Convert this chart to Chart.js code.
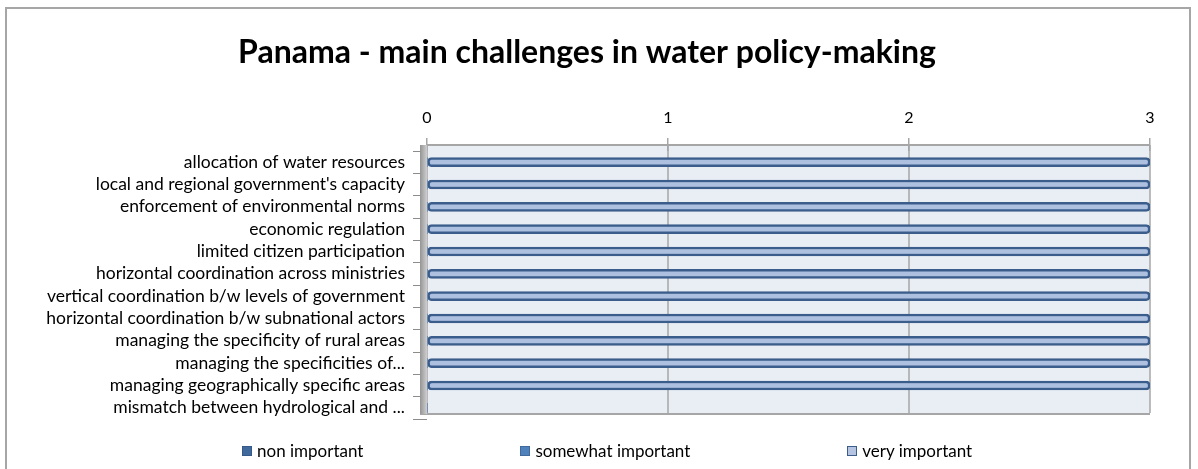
<!DOCTYPE html>
<html>
<head>
<meta charset="utf-8">
<script src="https://cdn.jsdelivr.net/npm/chart.js@4.4.0/dist/chart.umd.min.js"></script>
<style>
  html, body { margin: 0; padding: 0; background: #fff; overflow: hidden; }
  #wrap { position: relative; width: 1198px; height: 469px; }
  #frame { position: absolute; left: 5px; top: 7px; width: 1186px; height: 480px; border: 2px solid #a6a6a6; box-sizing: border-box; }
  canvas { position: absolute; left: 0; top: 0; }
  #legend { position: absolute; left: 242px; top: 440px; display: flex; gap: 157px; font: 17px Lato, sans-serif; color: #000; }
  .item { display: flex; align-items: center; }
  .box { width: 10px; height: 10px; margin-right: 5px; box-sizing: border-box; }
</style>
</head>
<body>
<div id="wrap">
  <div id="frame"></div>
  <canvas id="chart" width="1198" height="469"></canvas>
  <div id="legend"></div>
</div>
<script>
const categories = [
    'allocation of water resources',
    "local and regional government's capacity",
    'enforcement of environmental norms',
    'economic regulation',
    'limited citizen participation',
    'horizontal coordination across ministries',
    'vertical coordination b/w levels of government',
    'horizontal coordination b/w subnational actors',
    'managing the specificity of rural areas',
    'managing the specificities of...',
    'managing geographically specific areas',
    'mismatch between hydrological and ...'
];
const seriesNames = ['non important', 'somewhat important', 'very important'];
const nonImportant = [0, 0, 0, 0, 0, 0, 0, 0, 0, 0, 0, 0];
const somewhatImportant = [0, 0, 0, 0, 0, 0, 0, 0, 0, 0, 0, 0];
const veryImportant = [3, 3, 3, 3, 3, 3, 3, 3, 3, 3, 3, 0];
const xTicks = [0, 1, 2, 3];

const fills = ['#40699c', '#4f81bd', '#adc0df'];
const borders = ['#36598a', '#41699c', '#3a5d8c'];

// plot box with a flat "3D" wall, drawn around the chart area
const plotBox = {
    id: 'plotBox',
    beforeDraw(chart) {
        const { ctx, chartArea: a } = chart;
        ctx.save();
        ctx.fillStyle = '#e9edf4';
        ctx.fillRect(a.left, a.top - 6, a.right - a.left, a.bottom - a.top);
        ctx.restore();
    },
    beforeDatasetsDraw(chart) {
        const { ctx, chartArea: a, scales } = chart;
        const top = a.top - 6, bottom = a.bottom - 6;
        ctx.save();
        ctx.strokeStyle = '#a6a6a6';
        ctx.lineWidth = 1.5;
        xTicks.forEach(v => {
            const px = scales.x.getPixelForValue(v);
            ctx.beginPath();
            ctx.moveTo(px, top);
            ctx.lineTo(px, bottom);
            ctx.stroke();
        });
        ctx.lineWidth = 2;
        ctx.beginPath();
        ctx.moveTo(a.left, top);
        ctx.lineTo(a.right, top);
        ctx.moveTo(a.left - 7, bottom + 1);
        ctx.lineTo(a.right, bottom + 1);
        ctx.stroke();
        const g = ctx.createLinearGradient(a.left - 7, 0, a.left, 0);
        g.addColorStop(0, '#949494');
        g.addColorStop(1, '#cfcfcf');
        ctx.fillStyle = g;
        ctx.fillRect(a.left - 7, top, 7, bottom - top + 1);
        ctx.restore();
    }
};

const ctx = document.getElementById('chart').getContext('2d');
const chart = new Chart(ctx, {
    type: 'bar',
    data: {
        labels: categories,
        datasets: [nonImportant, somewhatImportant, veryImportant].map((d, i) => ({
            label: seriesNames[i],
            data: d,
            backgroundColor: fills[i],
            borderColor: borders[i],
            borderWidth: d.some(v => v > 0) ? 2.5 : 0,
            borderSkipped: false,
            borderRadius: 4,
            barThickness: 9
        }))
    },
    options: {
        indexAxis: 'y',
        responsive: false,
        animation: false,
        layout: { padding: { top: 0, left: 24, right: 48, bottom: 50 } },
        plugins: {
            legend: { display: false },
            tooltip: { enabled: false },
            title: {
                display: true,
                text: 'Panama - main challenges in water policy-making',
                color: '#000',
                font: { family: 'Lato', size: 32, weight: 'bold', lineHeight: 1.2 },
                padding: { top: 33, bottom: 8.4 }
            }
        },
        scales: {
            x: {
                position: 'top',
                stacked: true,
                min: 0,
                max: 3,
                afterBuildTicks: axis => { axis.ticks = xTicks.map(v => ({ value: v })); },
                afterFit: axis => { axis.height = 71.2; },
                grid: { drawOnChartArea: false, tickLength: 13, color: '#a6a6a6', lineWidth: 1.5 },
                border: { display: false },
                ticks: { color: '#000', padding: 11, font: { family: 'Lato', size: 16 } }
            },
            y: {
                stacked: true,
                afterFit: axis => { axis.width = 403; },
                grid: { drawOnChartArea: false, tickLength: 14, color: '#8c8c8c', lineWidth: 1 },
                border: { display: false },
                ticks: { color: '#000', padding: 8, autoSkip: false, font: { family: 'Lato', size: 17.5 } }
            }
        }
    },
    plugins: [plotBox]
});

const legend = document.getElementById('legend');
seriesNames.forEach((name, i) => {
    const item = document.createElement('div');
    item.className = 'item';
    const box = document.createElement('span');
    box.className = 'box';
    box.style.background = i === 2 ? '#b4c4e1' : fills[i];
    box.style.border = '1px solid ' + borders[i];
    const text = document.createElement('span');
    text.textContent = name;
    item.appendChild(box);
    item.appendChild(text);
    legend.appendChild(item);
});
</script>
</body>
</html>
